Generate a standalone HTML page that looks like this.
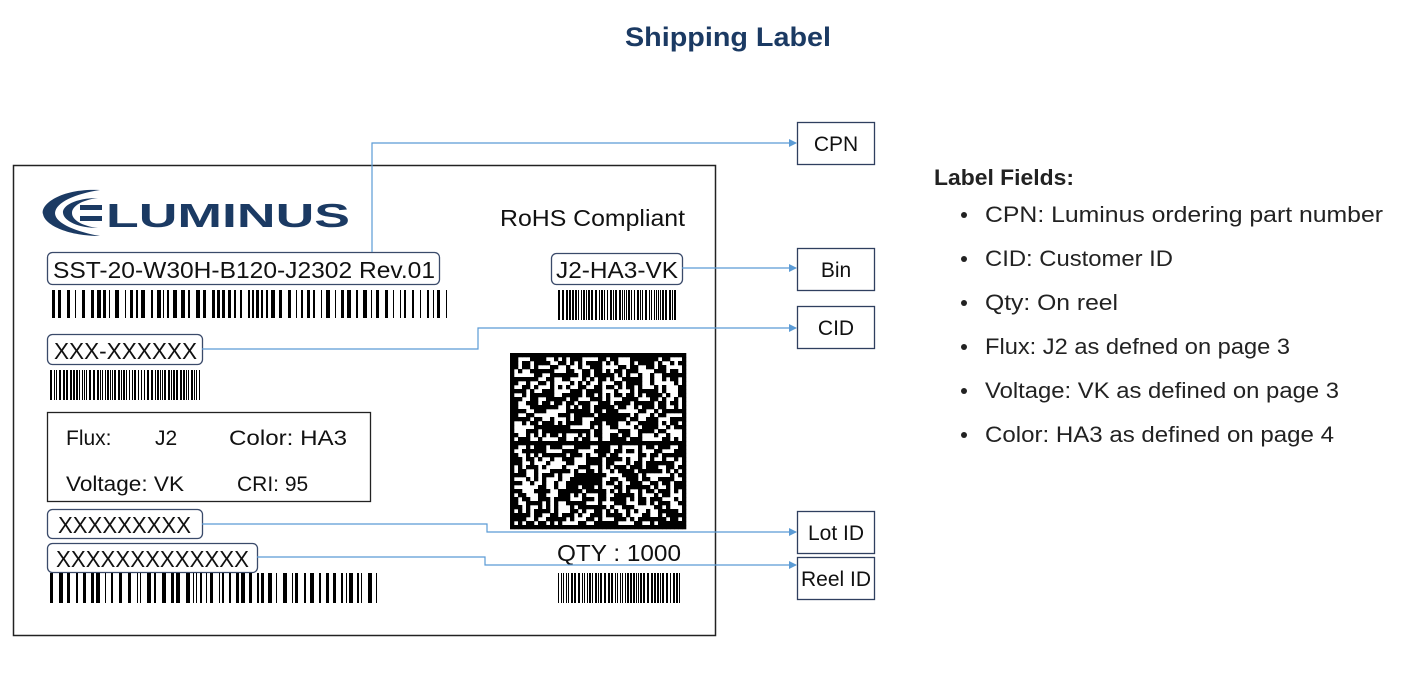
<!DOCTYPE html>
<html><head><meta charset="utf-8"><style>
html,body{margin:0;padding:0;background:#fff;}
svg{display:block;}
text{font-family:"Liberation Sans",sans-serif;}
</style></head><body>
<svg id="s" width="1402" height="674" viewBox="0 0 1402 674" xmlns="http://www.w3.org/2000/svg">
<defs><marker id="a" markerWidth="8" markerHeight="8" refX="7" refY="4" orient="auto" markerUnits="userSpaceOnUse"><path d="M0,0 L8,4 L0,8 z" fill="#5b9bd5"/></marker></defs>
<text x="728" y="46" text-anchor="middle" font-size="27" font-weight="bold" fill="#1b3a63" textLength="206" lengthAdjust="spacingAndGlyphs">Shipping Label</text>
<rect x="13.5" y="165.5" width="702" height="470" fill="none" stroke="#222" stroke-width="1.5"/>
<!-- logo -->
<g fill="#1b3a63">
<path d="M100,190 C60,188 40,205 43,214 C45,226 70,236 100,236 C78,232 55,224 55,213 C56,202 75,194 100,190z"/>
<path d="M98,198 C75,198 62,206 63,213 C64,221 78,228 98,228 C82,226 72,220 72,213 C72,206 82,200 98,198z"/>
<rect x="80" y="205" width="22" height="5"/><rect x="80" y="216" width="22" height="5"/>
</g>
<text x="106" y="227" font-size="33" font-weight="bold" fill="#1b3a63" textLength="244" lengthAdjust="spacingAndGlyphs">LUMINUS</text>
<text x="500" y="226" font-size="23" fill="#111" textLength="185" lengthAdjust="spacingAndGlyphs">RoHS Compliant</text>
<g fill="none" stroke="#3a4a6a" stroke-width="1.3">
<rect x="47.5" y="252.5" width="392" height="32" rx="5"/>
<rect x="47.5" y="334.5" width="155" height="30" rx="5"/>
<rect x="47.5" y="509.5" width="155" height="29" rx="5"/>
<rect x="47.5" y="543.5" width="210" height="29" rx="5"/>
<rect x="551.5" y="253.5" width="131" height="31" rx="5"/>
</g>
<rect x="47.5" y="412.5" width="323" height="89" fill="none" stroke="#222" stroke-width="1.3"/>
<g font-size="23" fill="#111">
<text x="53" y="278" textLength="382" lengthAdjust="spacingAndGlyphs">SST-20-W30H-B120-J2302 Rev.01</text>
<text x="54" y="359" textLength="143" lengthAdjust="spacingAndGlyphs">XXX-XXXXXX</text>
<text x="58" y="533" textLength="133" lengthAdjust="spacingAndGlyphs">XXXXXXXXX</text>
<text x="56" y="567" textLength="193" lengthAdjust="spacingAndGlyphs">XXXXXXXXXXXXX</text>
<text x="556" y="278" textLength="122" lengthAdjust="spacingAndGlyphs">J2-HA3-VK</text>
<text x="557" y="561" textLength="124" lengthAdjust="spacingAndGlyphs">QTY : 1000</text>
</g>
<g font-size="21" fill="#111">
<text x="66" y="445">Flux:</text><text x="155" y="445">J2</text><text x="229" y="445" textLength="118" lengthAdjust="spacingAndGlyphs">Color:  HA3</text>
<text x="66" y="491" textLength="118" lengthAdjust="spacingAndGlyphs">Voltage: VK</text><text x="237" y="491">CRI: 95</text>
</g>
<g id="bc"></g>
<g id="qr"></g>
<!-- connectors -->
<g fill="none" stroke="#5b9bd5" stroke-width="1.2">
<path d="M372,252 V143 H796" marker-end="url(#a)"/>
<path d="M682,268 H796" marker-end="url(#a)"/>
<path d="M202,349 H478 V328 H796" marker-end="url(#a)"/>
<path d="M202,524 H487 V532 H796" marker-end="url(#a)"/>
<path d="M257,557 H485 V565 H796" marker-end="url(#a)"/>
</g>
<g fill="#fff" stroke="#2f3f5f" stroke-width="1.3">
<rect x="797.5" y="122.5" width="77" height="42"/>
<rect x="797.5" y="248.5" width="77" height="42"/>
<rect x="797.5" y="306.5" width="77" height="42"/>
<rect x="797.5" y="511.5" width="77" height="42"/>
<rect x="797.5" y="557.5" width="77" height="42"/>
</g>
<g font-size="21" fill="#111" text-anchor="middle">
<text x="836" y="151">CPN</text><text x="836" y="277">Bin</text><text x="836" y="335">CID</text>
<text x="836" y="540">Lot ID</text><text x="836" y="586">Reel ID</text>
</g>
<text x="934" y="185" font-size="22" font-weight="bold" fill="#222" textLength="140" lengthAdjust="spacingAndGlyphs">Label Fields:</text>
<g font-size="22" fill="#222">
<circle cx="964" cy="215" r="3"/><text x="985" y="222" textLength="398" lengthAdjust="spacingAndGlyphs">CPN:  Luminus ordering part number</text>
<circle cx="964" cy="259" r="3"/><text x="985" y="266" textLength="188" lengthAdjust="spacingAndGlyphs">CID:  Customer ID</text>
<circle cx="964" cy="303" r="3"/><text x="985" y="310" textLength="133" lengthAdjust="spacingAndGlyphs">Qty:  On reel</text>
<circle cx="964" cy="347" r="3"/><text x="985" y="354" textLength="305" lengthAdjust="spacingAndGlyphs">Flux:  J2 as defned on page 3</text>
<circle cx="964" cy="391" r="3"/><text x="985" y="398" textLength="354" lengthAdjust="spacingAndGlyphs">Voltage:  VK as defined on page 3</text>
<circle cx="964" cy="435" r="3"/><text x="985" y="442" textLength="349" lengthAdjust="spacingAndGlyphs">Color: HA3 as defined on  page 4</text>
</g>
</svg>
<script>
(function(){
var NS="http://www.w3.org/2000/svg";
var seed=12345;function r(){seed=(seed*1103515245+12345)&0x7fffffff;return seed/0x7fffffff;}
function bar(g,x0,x1,y,h,wide){var x=x0;while(x<x1){var w=wide?(1+Math.floor(r()*4)):(1+Math.floor(r()*2));if(x+w>x1)w=x1-x;var e=document.createElementNS(NS,"rect");e.setAttribute("x",x);e.setAttribute("y",y);e.setAttribute("width",w);e.setAttribute("height",h);e.setAttribute("fill","#000");g.appendChild(e);x+=w+(wide?(2+Math.floor(r()*5)):(1+Math.floor(r()*2)));}}
var g=document.getElementById("bc");
bar(g,52,447,290,28,true);bar(g,50,200,370,30,false);bar(g,50,377,573,30,true);
bar(g,558,676,290,30,false);bar(g,558,680,573,30,false);
var q=document.getElementById("qr");var n=44,s=176/n;
for(var i=0;i<n;i++)for(var j=0;j<n;j++){var on=(i==0||j==n-1||i==22||j==22)?1:(r()<0.55);if(j==0)on=1;if(i==n-1)on=1;if(on){var e=document.createElementNS(NS,"rect");e.setAttribute("x",(510+i*s).toFixed(2));e.setAttribute("y",(353+j*s).toFixed(2));e.setAttribute("width",s+0.3);e.setAttribute("height",s+0.3);e.setAttribute("fill","#000");q.appendChild(e);}}
})();
</script>
</body></html>
